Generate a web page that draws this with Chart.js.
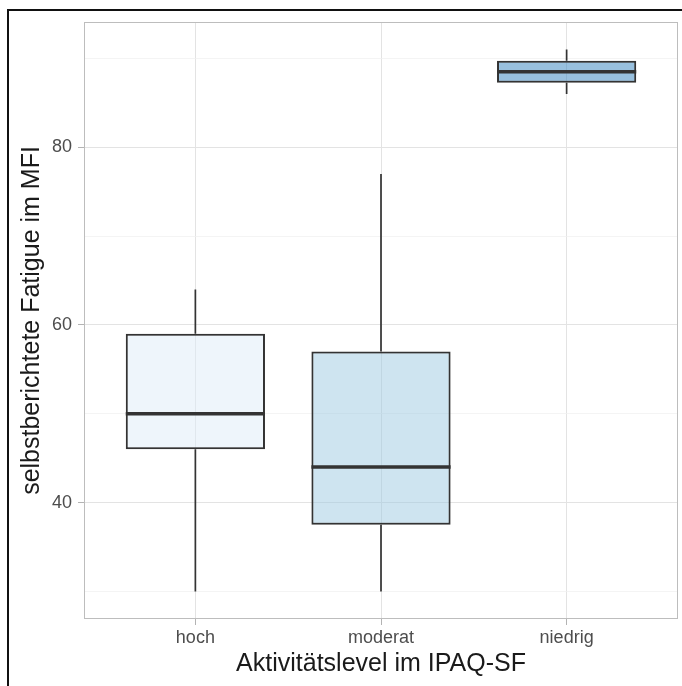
<!DOCTYPE html>
<html>
<head>
<meta charset="utf-8">
<script src="https://cdn.jsdelivr.net/npm/chart.js@4.4.1/dist/chart.umd.min.js"></script>
<style>
  html, body { margin: 0; padding: 0; background: #fff; }
  #wrap { position: relative; width: 682px; height: 686px; overflow: hidden; }
  #frame { position: absolute; left: 7px; top: 9px; width: 720px; height: 720px; border: 2px solid #111; box-sizing: border-box; }
  #chart { position: absolute; left: 0; top: 0; }
</style>
</head>
<body>
<div id="wrap">
  <div id="frame"></div>
  <canvas id="chart" width="682" height="686"></canvas>
</div>
<script>
// Daten
const categories = ['hoch', 'moderat', 'niedrig'];
const whiskerLow = [30, 30, 86];
const q1 = [46, 37.5, 87.25];
const median = [50, 44, 88.5];
const q3 = [59, 57, 89.75];
const whiskerHigh = [64, 77, 91];
const yTicks = [30, 40, 50, 60, 70, 80, 90];
const yLabelled = [40, 60, 80];

const fills = ['rgba(222,235,247,0.5)', 'rgba(158,202,225,0.5)', 'rgba(49,130,189,0.5)'];
const lineCol = '#333333';

// Rahmen, Whisker + Median zeichnen
const boxExtras = {
  id: 'boxExtras',
  beforeDatasetsDraw(chart) {
    const { ctx, chartArea: a } = chart;
    ctx.save();
    ctx.strokeStyle = '#bdbdbd';
    ctx.lineWidth = 1;
    ctx.strokeRect(a.left + 0.5, a.top + 0.5, a.right - a.left - 1, a.bottom - a.top - 1);
    ctx.restore();
  },
  afterDatasetsDraw(chart) {
    const { ctx, scales: { y } } = chart;
    const meta = chart.getDatasetMeta(0);
    ctx.save();
    ctx.strokeStyle = lineCol;
    meta.data.forEach((bar, i) => {
      const half = bar.width / 2;
      ctx.lineWidth = 1.7;
      ctx.beginPath();
      ctx.moveTo(bar.x, y.getPixelForValue(q3[i]));
      ctx.lineTo(bar.x, y.getPixelForValue(whiskerHigh[i]));
      ctx.moveTo(bar.x, y.getPixelForValue(q1[i]));
      ctx.lineTo(bar.x, y.getPixelForValue(whiskerLow[i]));
      ctx.stroke();

      ctx.lineWidth = 3.5;
      ctx.beginPath();
      const my = y.getPixelForValue(median[i]);
      ctx.moveTo(bar.x - half, my);
      ctx.lineTo(bar.x + half, my);
      ctx.stroke();
    });
    ctx.restore();
  }
};

new Chart(document.getElementById('chart'), {
  type: 'bar',
  data: {
    datasets: [{
      data: categories.map((c, i) => ({ x: i + 1, y: [q1[i], q3[i]] })),
      backgroundColor: fills,
      borderColor: lineCol,
      borderWidth: 2,
      borderSkipped: false,
      barPercentage: 0.75,
      categoryPercentage: 1.0
    }]
  },
  options: {
    responsive: false,
    animation: false,
    devicePixelRatio: 1,
    layout: { padding: { top: 22, right: 4, left: 0, bottom: 0 } },
    plugins: { legend: { display: false }, tooltip: { enabled: false } },
    scales: {
      x: {
        type: 'linear',
        min: 0.4,
        max: 3.6,
        offset: false,
        bounds: 'data',
        afterBuildTicks: axis => { axis.ticks = categories.map((c, i) => ({ value: i + 1 })); },
        afterFit: scale => { scale.height = 67; },
        grid: { offset: false, color: '#e3e3e3', lineWidth: 1, tickLength: 6, tickColor: '#b3b3b3' },
        border: { display: false },
        ticks: {
          autoSkip: false,
          maxRotation: 0,
          padding: 2,
          color: '#4d4d4d',
          font: { family: 'Liberation Sans, Arial, sans-serif', size: 18 },
          callback: v => categories[v - 1]
        },
        title: {
          display: true,
          text: 'Aktivitätslevel im IPAQ-SF',
          color: '#1a1a1a',
          font: { family: 'Liberation Sans, Arial, sans-serif', size: 25, lineHeight: 1.2 },
          padding: { top: 0, bottom: 7 }
        }
      },
      y: {
        min: 26.9,
        max: 94.1,
        bounds: 'data',
        afterBuildTicks: axis => { axis.ticks = yTicks.map(v => ({ value: v })); },
        afterFit: scale => { scale.width = 84; },
        grid: {
          color: ctx => yLabelled.includes(ctx.tick && ctx.tick.value) ? '#e3e3e3' : '#efefef',
          lineWidth: ctx => yLabelled.includes(ctx.tick && ctx.tick.value) ? 1 : 0.7,
          tickLength: 6,
          tickColor: ctx => yLabelled.includes(ctx.tick && ctx.tick.value) ? '#b3b3b3' : 'rgba(0,0,0,0)'
        },
        border: { display: false },
        ticks: {
          padding: 6,
          color: '#4d4d4d',
          font: { family: 'Liberation Sans, Arial, sans-serif', size: 18 },
          callback: v => yLabelled.includes(v) ? String(v) : ''
        },
        title: {
          display: true,
          text: 'selbstberichtete Fatigue im MFI',
          color: '#1a1a1a',
          font: { family: 'Liberation Sans, Arial, sans-serif', size: 25, lineHeight: 1.2 },
          padding: { top: 17, bottom: 0 }
        }
      }
    }
  },
  plugins: [boxExtras]
});
</script>
</body>
</html>
